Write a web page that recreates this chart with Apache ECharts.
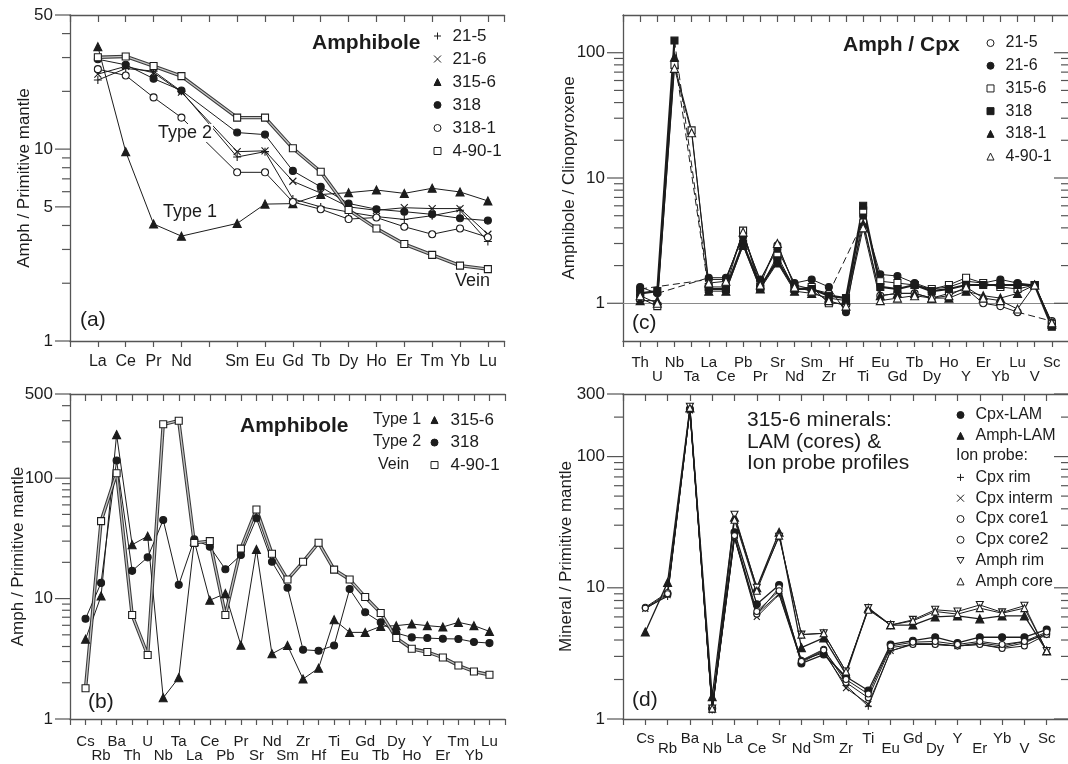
<!DOCTYPE html>
<html><head><meta charset="utf-8">
<script src="https://cdn.jsdelivr.net/npm/echarts@6/dist/echarts.min.js"></script>
<style>html,body{margin:0;padding:0;background:#fff}#c{width:1068px;height:764px}</style>
</head><body><div id="c"></div>
<script>
// ---------------- DATA ----------------
// Panel (a): REE, Amph / Primitive mantle
const aElements = ['La','Ce','Pr','Nd','','Sm','Eu','Gd','Tb','Dy','Ho','Er','Tm','Yb','Lu'];
const a_21_5   = [22.9, 26.3, 25.5, 20.0, null, 9.1, 9.7, 5.5, 5.0, 4.7, 4.45, 4.3, 4.5, 4.8, 3.3];
const a_21_6   = [24.6, 27.0, 25.0, 19.8, null, 9.7, 9.8, 6.8, 5.9, 5.0, 4.8, 4.95, 4.9, 4.9, 3.6];
const a_315_6  = [34.2, 9.7, 4.07, 3.52, null, 4.1, 5.17, 5.2, 5.8, 5.93, 6.12, 5.88, 6.25, 5.98, 5.37];
const a_318    = [29.4, 27.5, 23.3, 20.2, null, 12.2, 11.9, 7.7, 6.36, 5.21, 4.86, 4.72, 4.57, 4.36, 4.24];
const a_318_1  = [26.1, 24.2, 18.6, 14.6, null, 7.57, 7.57, 5.3, 4.86, 4.32, 4.4, 3.94, 3.6, 3.86, 3.47];
const a_4_90_1 = [30.1, 30.4, 27.1, 24.0, null, 14.6, 14.6, 10.1, 7.62, 4.82, 3.86, 3.2, 2.81, 2.47, 2.37];
const aYTicks = [1,2,3,4,5,6,7,8,9,10,20,30,40,50];
const aYMajor = [1,5,10,50];

// Panel (b): extended trace elements
const bElements = ['Cs','Rb','Ba','Th','U','Nb','Ta','La','Ce','Pb','Pr','Sr','Nd','Sm','Zr','Hf','Ti','Eu','Gd','Tb','Dy','Ho','Y','Er','Tm','Yb','Lu'];
const b_315_6  = [4.6, 10.5, 230, 28, 33, 1.5, 2.2, 30, 9.7, 11, 4.1, 25.6, 3.48, 4.08, 2.15, 2.64, 6.68, 5.24, 5.24, 5.88, 5.96, 6.15, 5.96, 5.81, 6.35, 5.96, 5.34];
const b_318    = [6.8, 13.5, 140, 17, 22, 45, 13, 31, 27, 17.5, 23, 46.4, 20.2, 12.3, 3.76, 3.69, 4.08, 12.0, 7.69, 6.35, 5.18, 4.76, 4.7, 4.64, 4.62, 4.36, 4.27];
const b_4_90_1 = [1.8, 44, 110, 7.3, 3.4, 280, 300, 29, 30, 7.3, 26, 55, 23.6, 14.4, 20.2, 29.1, 17.4, 14.4, 10.3, 7.6, 4.7, 3.83, 3.6, 3.24, 2.78, 2.48, 2.33];
const bYTicks = [1,2,3,4,5,6,7,8,9,10,20,30,40,50,60,70,80,90,100,200,300,400,500];
const bYMajor = [1,10,100,500];

// Panel (c): Amphibole / Clinopyroxene
const cElements = ['Th','U','Nb','Ta','La','Ce','Pb','Pr','Sr','Nd','Sm','Zr','Hf','Ti','Eu','Gd','Tb','Dy','Ho','Y','Er','Yb','Lu','V','Sc'];
const c_21_5   = [1.3, null, null, null, 1.55, 1.55, 3.6, 1.5, 2.9, 1.4, 1.3, 1.2, null, 4.5, 1.15, 1.2, 1.2, 1.1, 1.2, 1.3, 1.0, 0.95, 0.85, null, 0.72];
const c_21_6   = [1.35, 1.2, null, null, 1.6, 1.6, 3.4, 1.55, 2.7, 1.45, 1.55, 1.35, 0.85, 5.0, 1.7, 1.65, 1.45, 1.3, 1.35, 1.5, 1.45, 1.55, 1.45, 1.4, 0.7];
const c_315_6  = [1.1, 0.95, 80, 24, 1.35, 1.35, 3.8, 1.3, 2.4, 1.3, 1.35, 1.0, 1.0, 5.5, 1.5, 1.45, 1.4, 1.3, 1.4, 1.6, 1.45, 1.35, 1.3, 1.4, 0.68];
const c_318    = [1.2, 1.25, 125, null, 1.3, 1.3, 3.0, 1.35, 2.2, 1.3, 1.3, 1.15, 1.1, 6.0, 1.35, 1.3, 1.4, 1.25, 1.3, 1.4, 1.4, 1.4, 1.4, 1.4, 0.65];
const c_318_1  = [1.05, 1.05, 92, null, 1.25, 1.25, 2.9, 1.3, 2.1, 1.25, 1.2, 1.1, 1.05, 4.3, 1.15, 1.2, 1.2, 1.1, 1.1, 1.25, 1.15, 1.1, 1.2, 1.4, 0.68];
const c_4_90_1 = [1.15, 1.0, 75, 23, 1.45, 1.5, 3.7, 1.4, 3.0, 1.35, 1.25, 1.05, 0.95, 4.0, 1.05, 1.1, 1.15, 1.1, 1.15, 1.35, 1.1, 1.05, 0.9, 1.4, 0.7];
const cYTicks = [1,2,3,4,5,6,7,8,9,10,20,30,40,50,60,70,80,90,100];
const cYMajor = [1,10,100];

// Panel (d): 315-6 minerals
const dElements = ['Cs','Rb','Ba','Nb','La','Ce','Sr','Nd','Sm','Zr','Ti','Eu','Gd','Dy','Y','Er','Yb','V','Sc'];
const d_cpxLAM   = [null, 9.0, 230, 1.2, 26.5, 7.5, 10.5, 2.65, 3.1, 2.1, 1.65, 3.7, 3.95, 4.2, 3.8, 4.2, 4.2, 4.2, 4.8];
const d_amphLAM  = [4.6, 11, 235, 1.48, 34.5, 10, 26.5, 3.5, 4.15, 2.2, 7.0, 5.2, 5.2, 6.0, 6.1, 5.8, 6.1, 6.1, 3.3];
const d_cpxRim   = [7.0, 8.6, 225, 1.17, 24, 6.3, 9.0, 2.8, 3.2, 1.8, 1.25, 3.3, 3.7, 3.7, 3.6, 3.7, 3.5, 3.8, 4.5];
const d_cpxInt   = [6.9, 8.8, 225, 1.17, 24, 6.0, 8.9, 2.7, 3.3, 1.72, 1.3, 3.3, 3.75, 3.75, 3.6, 3.8, 3.6, 3.9, 4.4];
const d_cpxCore1 = [7.1, 9.2, 228, 1.2, 24.5, 6.3, 10, 2.8, 3.4, 1.9, 1.45, 3.5, 3.7, 3.7, 3.6, 3.7, 3.45, 3.6, 4.4];
const d_cpxCore2 = [7.0, 9.0, 228, 1.2, 25, 6.6, 9.5, 2.75, 3.35, 2.0, 1.55, 3.6, 3.85, 3.9, 3.7, 3.9, 3.7, 3.9, 4.6];
const d_amphRim  = [null, null, 240, 1.2, 36, 10, 24.5, 4.4, 4.5, 2.3, 7.0, 5.2, 5.7, 6.8, 6.6, 7.4, 6.5, 7.3, 3.3];
const d_amphCore = [null, null, 235, 1.2, 33, 9.5, 25, 4.4, 4.5, 2.3, 6.8, 5.2, 5.6, 6.6, 6.3, 7.0, 6.4, 7.0, 3.3];
const dYTicks = [1,2,3,4,5,6,7,8,9,10,20,30,40,50,60,70,80,90,100,200,300];
const dYMajor = [1,10,100,300];

// ---------------- STYLE / LAYOUT ----------------
const FONT = '"Liberation Sans", Arial, Helvetica, sans-serif';
const INK = '#1c1c1c';
const AX = '#555';
const SYM = {
  plus: 'path://M5,0L5,10M0,5L10,5',
  cross: 'path://M0,0L10,10M10,0L0,10',
  down: 'path://M0,0L10,0L5,8.66Z'
};
const grids = [
  {left:70,  top:15,  width:434.6, height:326},
  {left:70,  top:394, width:435,   height:325},
  {left:623, top:15,  width:446,   height:326},
  {left:623, top:394, width:446,   height:325}
];
const xMax = [14.6, 27, 25, 19];
const yRange = [[1,50],[1,500],[0.5,200],[1,300]];
const yNames = ['Amph / Primitive mantle','Amph / Primitive mantle','Amphibole / Clinopyroxene','Mineral / Primitive mantle'];
const yGaps = [37, 43, 45, 48];
const xLabelCfg = [
  {names:aElements, rows:1, margin:12, lh:17, fs:16},
  {names:bElements, rows:2, margin:16, lh:14, fs:15},
  {names:cElements, rows:2, margin:15, lh:14, fs:15},
  {names:dElements, rows:2, margin:15, lh:10, fs:15}
];

function xAxes(gi) {
  const cfg = xLabelCfg[gi];
  const base = {type:'value', gridIndex:gi, min:-1, max:xMax[gi], interval:1,
    splitLine:{show:false}, axisLine:{show:true, onZero:false, lineStyle:{color:AX, width:1.3}}};
  return [
    Object.assign({}, base, {position:'bottom',
      axisTick:{show:true, inside:false, length:6, lineStyle:{color:AX, width:1.2}},
      axisLabel:{show:true, margin:cfg.margin, fontSize:cfg.fs, fontFamily:FONT, color:INK, lineHeight:cfg.lh,
        hideOverlap:false, showMinLabel:true, showMaxLabel:true,
        formatter:function(v){ const i=Math.round(v); if (Math.abs(v-i)>1e-6) return ''; const n=cfg.names[i]; if(!n) return '';
          if (cfg.rows===1) return n; return (i%2===0) ? n : '\n'+n; }}}),
    Object.assign({}, base, {position:'top',
      axisTick:{show:true, inside:true, length:7, lineStyle:{color:AX, width:1.2}},
      axisLabel:{show:false}})
  ];
}

function tickSeries(gi, xv, ticks, majors, majLen, minLen, labelFs) {
  return {
    type:'custom', name:'_ticks'+gi+(labelFs?'L':'R'), xAxisIndex:gi*2, yAxisIndex:gi, silent:true, clip:false, z:10,
    data: ticks.map(v=>[xv, v, majors.indexOf(v)>=0?1:0]),
    encode:{x:0, y:1},
    renderItem:function(params, api){
      const p = api.coord([api.value(0), api.value(1)]);
      const maj = api.value(2) === 1;
      const len = maj ? majLen : minLen;
      const children=[{type:'line', shape:{x1:p[0], y1:p[1], x2:p[0]-len, y2:p[1]}, style:{stroke:AX, lineWidth:1.2}}];
      if (labelFs && maj) children.push({type:'text', x:p[0]-len-2, y:p[1],
        style:{text:String(api.value(1)), font:labelFs+'px '+FONT, fill:INK, align:'right', verticalAlign:'middle'}});
      return {type:'group', children:children};
    }
  };
}

function buildLine(gi, s, mode) {
  const out = [];
  const data = [];
  s.values.forEach((v,i)=>{ if (v!=null) data.push([i,v]); else if (mode==='break') data.push([i,'-']); });
  if (s.double) out.push({type:'line', name:s.name+'_bg', xAxisIndex:gi*2, yAxisIndex:gi, data:data, symbol:'none',
    connectNulls:false, lineStyle:{color:'#3a3a3a', width:3.4}, silent:true, z:2});
  out.push({type:'line', name:s.name, xAxisIndex:gi*2, yAxisIndex:gi, data:data, symbol:s.symbol, symbolSize:s.size,
    showSymbol:true, connectNulls:false, silent:true,
    lineStyle:{color:s.double?'#c4c4c4':INK, width:s.double?1.3:(s.width||1)},
    itemStyle:{color:s.fill, borderColor:INK, borderWidth:1.1}, z:3});
  if (mode==='break') {
    let last=-1;
    s.values.forEach((v,i)=>{ if (v!=null) { if (last>=0 && i-last>1) out.push({type:'line', name:s.name+'_gap'+i,
      xAxisIndex:gi*2, yAxisIndex:gi, data:[[last,s.values[last]],[i,v]], symbol:'none', silent:true,
      lineStyle:{color:INK, width:1, type:[7,4]}, z:2}); last=i; } });
  }
  return out;
}

function legendFor(list, left, top, rowH, fs, pad) {
  return {show:true, orient:'vertical', left:left, top:top, padding:0, itemWidth:7, itemHeight:7, itemGap:0, selectedMode:false,
    textStyle:{fontSize:fs, fontFamily:FONT, color:INK, lineHeight:rowH, padding:[0,0,0,pad]},
    formatter:function(n){ return n.slice(2); },
    data: list.map(s=>({name:s.name, icon:s.symbol, itemStyle:{color:s.fill, borderColor:INK, borderWidth:1}}))};
}

const T = (text, x, y, fs, o) => { o = o||{}; const st = {text:text, font:(o.bold?'bold ':'')+fs+'px '+FONT, fill:INK, align:o.align||'left', verticalAlign:'middle'};
  if (o.bg) { st.backgroundColor='#fff'; st.padding=[0,1]; } return {type:'text', x:x, y:y, z:100, style:st}; };

// series definitions
const aList = [
  {name:'a 21-5',   values:a_21_5,   symbol:SYM.plus,  fill:'transparent', size:8},
  {name:'a 21-6',   values:a_21_6,   symbol:SYM.cross, fill:'transparent', size:7},
  {name:'a 315-6',  values:a_315_6,  symbol:'triangle', fill:INK, size:8},
  {name:'a 318',    values:a_318,    symbol:'circle',  fill:INK, size:7},
  {name:'a 318-1',  values:a_318_1,  symbol:'circle',  fill:'#fff', size:7},
  {name:'a 4-90-1', values:a_4_90_1, symbol:'rect',    fill:'#fff', size:7, double:true}
];
const bList = [
  {name:'b 315-6',  values:b_315_6,  symbol:'triangle', fill:INK, size:8},
  {name:'b 318',    values:b_318,    symbol:'circle',  fill:INK, size:7},
  {name:'b 4-90-1', values:b_4_90_1, symbol:'rect',    fill:'#fff', size:7, double:true}
];
const cList = [
  {name:'c 21-5',   values:c_21_5,   symbol:'circle',  fill:'#fff', size:7},
  {name:'c 21-6',   values:c_21_6,   symbol:'circle',  fill:INK, size:7},
  {name:'c 315-6',  values:c_315_6,  symbol:'rect',    fill:'#fff', size:7},
  {name:'c 318',    values:c_318,    symbol:'rect',    fill:INK, size:7, width:2.2},
  {name:'c 318-1',  values:c_318_1,  symbol:'triangle', fill:INK, size:8},
  {name:'c 4-90-1', values:c_4_90_1, symbol:'triangle', fill:'#fff', size:8}
];
const dList1 = [
  {name:'d Cpx-LAM',  values:d_cpxLAM,  symbol:'circle',  fill:INK, size:7, width:1.3},
  {name:'d Amph-LAM', values:d_amphLAM, symbol:'triangle', fill:INK, size:8, width:1.3}
];
const dList2 = [
  {name:'d Cpx rim',    values:d_cpxRim,   symbol:SYM.plus,  fill:'transparent', size:7},
  {name:'d Cpx interm', values:d_cpxInt,   symbol:SYM.cross, fill:'transparent', size:6},
  {name:'d Cpx core1',  values:d_cpxCore1, symbol:'circle',  fill:'#fff', size:6},
  {name:'d Cpx core2',  values:d_cpxCore2, symbol:'circle',  fill:'#fff', size:6},
  {name:'d Amph rim',   values:d_amphRim,  symbol:SYM.down,  fill:'#fff', size:7},
  {name:'d Amph core',  values:d_amphCore, symbol:'triangle', fill:'#fff', size:7}
];

let series = [];
aList.forEach(s=>{ series = series.concat(buildLine(0, s, 'connect')); });
bList.forEach(s=>{ series = series.concat(buildLine(1, s, 'connect')); });
cList.forEach(s=>{ series = series.concat(buildLine(2, s, 'break')); });
dList1.concat(dList2).forEach(s=>{ series = series.concat(buildLine(3, s, 'connect')); });
// reference line at 1 in panel (c)
series[series.findIndex(s=>s.name==='c 21-5')].markLine = {silent:true, symbol:'none', label:{show:false},
  lineStyle:{color:'#8a8a8a', width:1.2, type:'solid'}, data:[{yAxis:1}], z:1};
// axis ticks (log axes)
series.push(tickSeries(0, -1, aYTicks, aYMajor, 15, 8, 17));
series.push(tickSeries(1, -1, bYTicks, bYMajor, 15, 8, 17));
series.push(tickSeries(2, -1, cYTicks, cYMajor, 16, 9, 17));
series.push(tickSeries(3, -1, dYTicks, dYMajor, 16, 9, 17));
series.push(tickSeries(2, xMax[2], cYTicks, cYMajor, 15, 8, 0));
series.push(tickSeries(3, xMax[3], dYTicks, dYMajor, 15, 8, 0));

const option = {
  animation:false,
  backgroundColor:'#fff',
  grid: grids.map(g=>Object.assign({outerBoundsMode:'none', containLabel:false}, g)),
  xAxis: [].concat(xAxes(0), xAxes(1), xAxes(2), xAxes(3)),
  yAxis: grids.map((g,gi)=>({type:'log', logBase:10, gridIndex:gi, min:yRange[gi][0], max:yRange[gi][1],
    axisLine:{show:true, onZero:false, lineStyle:{color:AX, width:1.3}}, axisTick:{show:false}, axisLabel:{show:false},
    splitLine:{show:false}, minorTick:{show:false},
    name:yNames[gi], nameLocation:'middle', nameGap:yGaps[gi], nameTextStyle:{fontSize:17, fontFamily:FONT, color:INK}})),
  legend: [
    legendFor(aList, 433.5, 24.5, 23, 17, 6.5),
    legendFor(bList, 430.5, 408.8, 22.5, 17, 7.5),
    legendFor(cList, 986.5, 31.7, 22.7, 16, 6.5),
    legendFor(dList1, 956.5, 404.6, 20.8, 16, 6.5),
    legendFor(dList2, 956.5, 467, 20.8, 16, 6.5)
  ],
  graphic: [
    T('Amphibole', 312, 43, 21, {bold:true}),
    T('Type 2', 157, 133, 18, {bg:true}),
    T('Type 1', 163, 212, 18),
    T('Vein', 455, 281, 18),
    T('(a)', 80, 320, 21),
    T('Amphibole', 240, 426, 21, {bold:true}),
    T('Type 1', 373, 420, 16),
    T('Type 2', 373, 442, 16),
    T('Vein', 378, 465, 16),
    T('(b)', 88, 702, 21),
    T('Amph / Cpx', 843, 45, 21, {bold:true}),
    T('(c)', 632, 323, 21),
    T('315-6 minerals:', 747, 420, 21),
    T('LAM (cores) &', 747, 442, 21),
    T('Ion probe profiles', 747, 463, 21),
    T('Ion probe:', 956, 456, 16),
    T('(d)', 632, 700, 21)
  ],
  series: series
};
const chart = echarts.init(document.getElementById('c'), null, {renderer:'canvas'});
chart.setOption(option);
</script></body></html>
